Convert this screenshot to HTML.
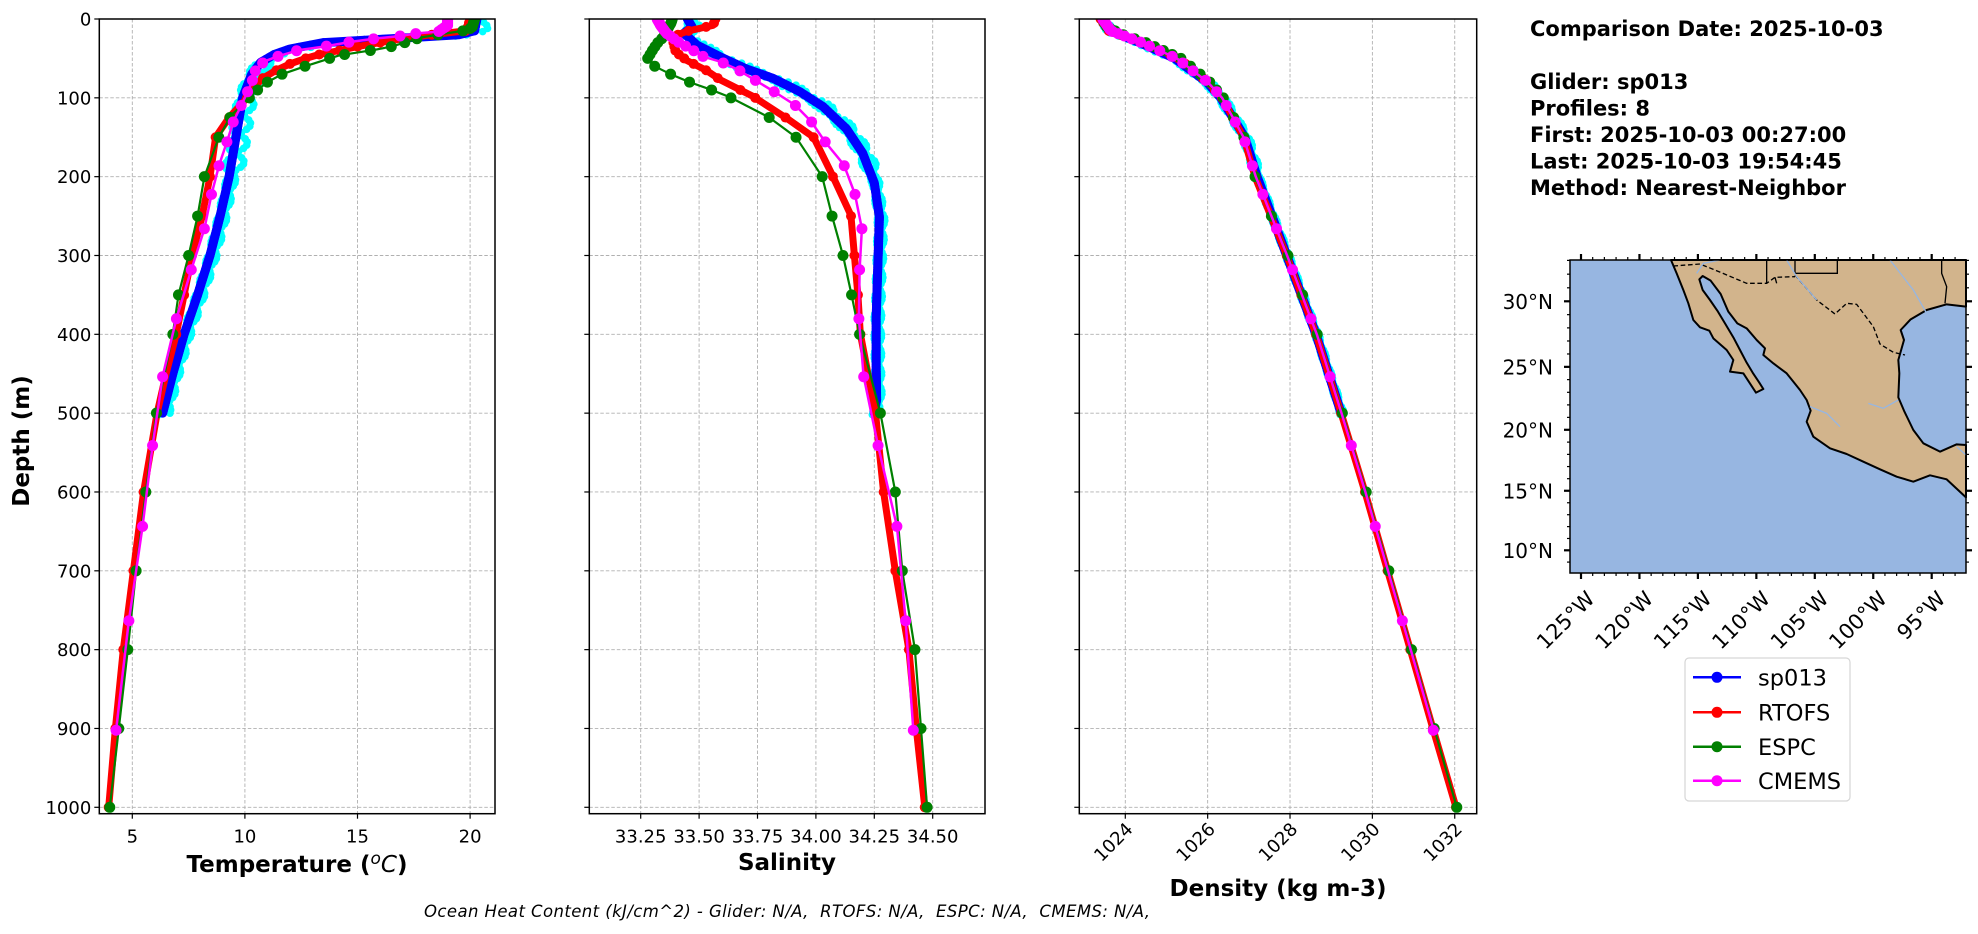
<!DOCTYPE html>
<html><head><meta charset="utf-8"><style>
html,body{margin:0;padding:0;background:#fff;}
svg{display:block;font-family:"DejaVu Sans","Liberation Sans",sans-serif;}
</style></head><body>
<svg id="s" width="1978" height="934" viewBox="0 0 1978 934" xmlns="http://www.w3.org/2000/svg">
<rect width="1978" height="934" fill="#fff"/>
<g id="plots"></g>
<g font-weight="bold" font-size="21" fill="#000">
<text x="1530" y="36">Comparison Date: 2025-10-03</text>
<text x="1530" y="89">Glider: sp013</text>
<text x="1530" y="115.7">Profiles: 8</text>
<text x="1530" y="142">First: 2025-10-03 00:27:00</text>
<text x="1530" y="168.5">Last: 2025-10-03 19:54:45</text>
<text x="1530" y="195">Method: Nearest-Neighbor</text>
</g>
<text x="297" y="872" font-size="23" font-weight="bold" text-anchor="middle">Temperature (<tspan font-style="italic" font-weight="normal" font-size="17" dy="-8">o</tspan><tspan font-style="italic" font-weight="normal" dy="8">C</tspan>)</text>
<text x="787" y="870" font-size="23" font-weight="bold" text-anchor="middle">Salinity</text>
<text x="1278" y="896" font-size="23" font-weight="bold" text-anchor="middle">Density (kg m-3)</text>
<text transform="translate(29,441) rotate(-90)" font-size="23" font-weight="bold" text-anchor="middle">Depth (m)</text>
<text x="424" y="917" font-size="16.5" font-style="italic" textLength="726">Ocean Heat Content (kJ/cm^2) - Glider: N/A,&#160; RTOFS: N/A,&#160; ESPC: N/A,&#160; CMEMS: N/A,</text>
<g id="map">
<rect x="1570" y="260" width="396" height="313" fill="#97b6e1"/>
<g transform="translate(1480,240) scale(0.33333)">
<path fill="#d2b48c" stroke="#000" stroke-width="6" stroke-linejoin="round" d="M573,60 L590,100 L610,150 L625,190 L640,240 L660,262 L688,272 L700,295 L740,330 L760,360 L750,395 L790,400 L828,458 L850,447 L838,428 L818,398 L800,368 L780,330 L760,292 L735,250 L712,212 L690,180 L668,150 L658,118 L668,108 L692,122 L722,162 L745,215 L772,250 L800,265 L830,300 L855,325 L850,345 L880,370 L920,400 L960,450 L980,480 L992,512 L980,545 L1000,590 L1050,625 L1100,642 L1150,665 L1200,688 L1250,710 L1300,725 L1350,706 L1400,718 L1458,772 L1458,615 L1430,613 L1380,635 L1330,610 L1300,570 L1272,512 L1255,472 L1258,400 L1255,360 L1272,300 L1262,270 L1292,238 L1340,210 L1400,193 L1458,200 L1458,60 Z"/>
<g fill="none" stroke="#000" stroke-width="4">
<path stroke-dasharray="14,8" d="M580,78 L660,72 L700,88 L800,130 L860,130 L885,112 L945,110"/>
<path d="M860,60 L860,130 M885,112 L890,130 M945,60 L945,100 L1072,100 L1072,60 M1385,60 L1385,100 L1400,140 L1395,190"/>
<path stroke-dasharray="14,8" d="M945,105 L1010,180 L1065,222 L1100,190 L1130,193 L1180,260 L1200,312 L1240,337 L1275,345"/>
</g>
<g fill="none" stroke="#97b6e1" stroke-width="4">
<path d="M650,100 L670,70 L720,60 M920,60 L950,110 L1010,180 M1230,60 L1300,150 L1340,220 M990,500 L1040,520 L1080,560 M1165,490 L1210,505 L1255,480 M1430,620 L1458,645"/>
</g>
</g>
<rect x="1570" y="260" width="396" height="313" fill="none" stroke="#000" stroke-width="1.5"/>
<g id="mapticks" stroke="#000"></g>
<g fill="#000" text-anchor="end" id="maplabels"></g>
</g>
<rect x="1685" y="658" width="165" height="143" rx="4" fill="#fff" stroke="#d6d6d6" stroke-width="1.2"/>
<g stroke-width="2.5">
<line x1="1693" y1="677.3" x2="1741" y2="677.3" stroke="#0000ff"/><circle cx="1717" cy="677.3" r="5.5" fill="#0000ff"/>
<line x1="1693" y1="712.3" x2="1741" y2="712.3" stroke="#ff0000"/><circle cx="1717" cy="712.3" r="5.5" fill="#ff0000"/>
<line x1="1693" y1="746.7" x2="1741" y2="746.7" stroke="#008000"/><circle cx="1717" cy="746.7" r="5.5" fill="#008000"/>
<line x1="1693" y1="780.7" x2="1741" y2="780.7" stroke="#ff00ff"/><circle cx="1717" cy="780.7" r="5.5" fill="#ff00ff"/>
</g>
<g font-size="22.5" fill="#000">
<text x="1758" y="685.5">sp013</text>
<text x="1758" y="720.5">RTOFS</text>
<text x="1758" y="755">ESPC</text>
<text x="1758" y="789">CMEMS</text>
</g>
</svg>
<script>
(function(){
var NS="http://www.w3.org/2000/svg";
function el(p,n,a,t){var e=document.createElementNS(NS,n);for(var k in a)e.setAttribute(k,a[k]);if(t!==undefined)e.textContent=t;p.appendChild(e);return e;}
var G=document.getElementById('plots');
var top=19,bot=813.7;
function Y(d){return 19+d*0.7883;}
var panels=[
 {l:99.3,r:495,f:function(v){return 132.3+(v-5)*22.52;},ticks:[5,10,15,20],lab:function(v){return ''+v;},rot:false},
 {l:589.3,r:985,f:function(v){return 640.7+(v-33.25)*233.6;},ticks:[33.25,33.5,33.75,34,34.25,34.5],lab:function(v){return v.toFixed(2);},rot:false},
 {l:1079.3,r:1476.7,f:function(v){return 1125.3+(v-1024)*41.18;},ticks:[1024,1026,1028,1030,1032],lab:function(v){return ''+v;},rot:true}
];
var CM=[0.5,1.5,2.6,3.8,5,6.4,7.9,9.6,11.4,13.5,15.8,18.5,21.6,25.2,29.4,34.4,40.3,47.4,55.8,65.8,77.9,92.3,109.7,130.7,155.9,186.1,222.5,266,318.1,380.2,453.9,541.1,643.6,763.3,902.3];
function interp(pts,d){for(var i=0;i<pts.length-1;i++){if(d<=pts[i+1][0]){var a=pts[i],b=pts[i+1];var t=(d-a[0])/(b[0]-a[0]);return a[1]+t*(b[1]-a[1]);}}return pts[pts.length-1][1];}
var data=[
 {glider:[[0,20.3],[15,20.2],[20,19.5],[25,16.5],[30,13.5],[38,12],[45,11.3],[55,10.7],[70,10.3],[100,9.9],[150,9.6],[200,9.3],[250,8.9],[300,8.45],[350,7.9],[400,7.3],[450,6.8],[500,6.35]],
  red:[[0,20.0],[10,19.9],[15,19.8],[20,18.3],[25,17],[30,16],[35,15],[40,14.2],[45,13.3],[50,12.7],[57,12.0],[65,11.4],[75,10.8],[90,10.3],[100,10.1],[125,9.3],[150,8.7],[200,8.45],[250,8.1],[300,7.65],[350,7.3],[400,6.95],[450,6.5],[500,6.1],[600,5.5],[700,5.05],[800,4.6],[900,4.25],[1000,3.95]],
  green:[[0,20.2],[10,20.1],[14,19.9],[23.5,17.8],[30,17.1],[35,16.5],[39,15.8],[46,14.2],[60,12.67],[70,11.65],[80,11.0],[89,10.6],[100,10.2],[122,9.4],[150,8.84],[200,8.2],[250,7.9],[300,7.5],[350,7.05],[400,6.8],[500,6.07],[600,5.6],[700,5.17],[800,4.8],[900,4.4],[1000,4.0]],
  mag:[[0,19.0],[8,19.0],[16,18.6],[18,17.7],[22,16.8],[24.5,15.9],[29,14.7],[35,13.5],[39.4,12.4],[48,11.4],[54,10.85],[65,10.47],[77.5,10.34],[91,10.14],[110,9.83],[130,9.49],[156,9.2],[185,8.86],[222,8.52],[266,8.2],[318,7.62],[380,6.96],[453,6.35],[541,5.9],[645,5.45],[765,4.84],[902,4.28]],cyan:0.35},
 {glider:[[0,33.45],[10,33.47],[18,33.435],[33,33.49],[48,33.59],[63,33.70],[75.5,33.818],[92,33.93],[111,34.03],[139,34.13],[170,34.20],[208,34.25],[251,34.272],[314,34.265],[378,34.258],[441,34.258],[483,34.26],[500,34.25]],
  red:[[0,33.57],[8,33.56],[12,33.50],[15,33.455],[19.7,33.41],[30,33.39],[42,33.40],[53,33.45],[65,33.53],[77,33.59],[98,33.73],[126,33.875],[150,33.99],[198,34.07],[249,34.15],[300,34.165],[350,34.18],[399,34.19],[500,34.255],[600,34.29],[700,34.34],[800,34.398],[900,34.43],[1000,34.466]],
  green:[[0,33.385],[5,33.38],[10,33.37],[18,33.357],[25,33.34],[31,33.32],[40,33.30],[50,33.28],[60,33.31],[70,33.378],[80,33.459],[89,33.545],[99,33.63],[125,33.80],[150,33.915],[200,34.027],[251,34.07],[300,34.116],[349,34.152],[400,34.187],[500,34.276],[600,34.34],[700,34.37],[800,34.424],[900,34.45],[1000,34.476]],
  mag:[[0,33.32],[5,33.33],[8,33.335],[18,33.36],[29,33.41],[39,33.47],[48,33.52],[54,33.59],[64,33.665],[77,33.736],[92,33.82],[109,33.91],[130,33.98],[156,34.04],[185,34.12],[222,34.167],[266,34.197],[318,34.187],[380,34.184],[453,34.204],[541,34.266],[644,34.347],[763,34.384],[902,34.417]],cyan:0.025},
 {glider:[[0,1023.4],[15,1023.63],[30,1024.35],[50,1025.2],[80,1025.98],[100,1026.32],[150,1026.9],[200,1027.2],[300,1027.92],[400,1028.63],[500,1029.24]],
  red:[[0,1023.4],[15,1023.6],[30,1024.45],[50,1025.3],[80,1026.0],[100,1026.35],[150,1026.87],[200,1027.15],[300,1027.92],[400,1028.63],[500,1029.24],[600,1029.82],[700,1030.37],[800,1030.92],[900,1031.47],[1000,1032.03]],
  green:[[0,1023.45],[10,1023.55],[20,1023.95],[30,1024.5],[50,1025.35],[80,1026.05],[100,1026.38],[150,1026.88],[200,1027.15],[300,1027.95],[400,1028.66],[500,1029.27],[600,1029.85],[700,1030.4],[800,1030.95],[900,1031.5],[1000,1032.05]],
  mag:[[0,1023.45],[15,1023.65],[30,1024.4],[50,1025.25],[80,1026.0],[100,1026.35],[150,1026.87],[200,1027.17],[300,1027.93],[400,1028.65],[500,1029.25],[600,1029.83],[700,1030.38],[800,1030.93],[900,1031.48]],cyan:0.08}
];
var depthsR=[0,5,10,15,20,25,30,35,40,45,50,57,65,75,90,100,125,150,200,250,300,350,400,500,600,700,800,900,1000];
var depthsG=[0,2,4,6,8,10,12,15,20,25,30,35,40,45,50,60,70,80,90,100,125,150,200,250,300,350,400,500,600,700,800,900,1000];
panels.forEach(function(p,i){
  var g=el(G,'g',{});
  el(g,'clipPath',{id:'c'+i}).appendChild((function(){var r=document.createElementNS(NS,'rect');r.setAttribute('x',p.l);r.setAttribute('y',top);r.setAttribute('width',p.r-p.l);r.setAttribute('height',bot-top);return r;})());
  for(var d=0;d<=1000;d+=100){el(g,'line',{x1:p.l,x2:p.r,y1:Y(d),y2:Y(d),stroke:'#b0b0b0','stroke-width':0.9,'stroke-dasharray':'3.5,2'});}
  p.ticks.forEach(function(v){var x=p.f(v);el(g,'line',{x1:x,x2:x,y1:top,y2:bot,stroke:'#b0b0b0','stroke-width':0.9,'stroke-dasharray':'3.5,2'});});
  var dg=el(g,'g',{'clip-path':'url(#c'+i+')'});
  var D=data[i];
  function pl(pts,dx,col,w){var s='';pts.forEach(function(q,k){s+=(k?'L':'M')+(p.f(q[1])+dx).toFixed(1)+','+Y(q[0]).toFixed(1);});el(dg,'path',{d:s,fill:'none',stroke:col,'stroke-width':w,'stroke-linejoin':'round','stroke-linecap':'round'});}
  var gl=D.glider;var cs=D.cyan;
  for(var dd=0;dd<=500;dd+=4){var v=interp(gl,dd);var off=cs*Math.sin(dd*1.7)*(dd<200?1.6:0.8);var x=p.f(v+Math.abs(off)*0.8+cs*0.3);el(dg,'circle',{cx:x,cy:Y(dd),r:3.8,fill:'#00ffff'});
    var x2=p.f(v-Math.abs(off)*0.5);el(dg,'circle',{cx:x2,cy:Y(dd+2),r:3.5,fill:'#00ffff'});}
  pl(gl,0,'#0000ff',9);
  var pts=[];for(var dd=0;dd<=500;dd+=3){pts.push([dd,interp(gl,dd)]);}
  pts.forEach(function(q){el(dg,'circle',{cx:p.f(q[1]),cy:Y(q[0]),r:4.5,fill:'#0000ff'});});
  pl(D.red,0,'#ff0000',7);
  depthsR.forEach(function(d){if(d<=D.red[D.red.length-1][0])el(dg,'circle',{cx:p.f(interp(D.red,d)),cy:Y(d),r:5,fill:'#ff0000'});});
  pl(D.green,0,'#008000',2.2);
  depthsG.forEach(function(d){el(dg,'circle',{cx:p.f(interp(D.green,d)),cy:Y(d),r:5.5,fill:'#008000'});});
  pl(D.mag,0,'#ff00ff',2.5);
  CM.forEach(function(d){el(dg,'circle',{cx:p.f(interp(D.mag,d)),cy:Y(d),r:5.5,fill:'#ff00ff'});});
  el(g,'rect',{x:p.l,y:top,width:p.r-p.l,height:bot-top,fill:'none',stroke:'#000','stroke-width':1.5});
  for(var d=0;d<=1000;d+=100){el(g,'line',{x1:p.l-5,x2:p.l,y1:Y(d),y2:Y(d),stroke:'#000','stroke-width':1.2});
    if(i==0)el(g,'text',{x:p.l-8,y:Y(d)+6.5,'font-size':18,'text-anchor':'end'},''+d);}
  p.ticks.forEach(function(v){var x=p.f(v);el(g,'line',{x1:x,x2:x,y1:bot,y2:bot+5,stroke:'#000','stroke-width':1.2});
    if(p.rot){el(g,'text',{transform:'translate('+(x+5)+','+(bot+13)+') rotate(-45)','font-size':18,'text-anchor':'end','dominant-baseline':'middle'},p.lab(v));}
    else el(g,'text',{x:x,y:bot+29,'font-size':18,'text-anchor':'middle'},p.lab(v));});
});
var MT=document.getElementById('mapticks'),ML=document.getElementById('maplabels');
function LX(lon){return 1581+(lon+125)*11.69;}
function merc(p){return Math.log(Math.tan(Math.PI/4+p*Math.PI/360));}
function LY(lat){return 301.3-666*(merc(lat)-merc(30));}
for(var lon=-126;lon<=-92;lon++){var x=LX(lon);if(x<1570||x>1966)continue;var maj=(lon%5==0);var L=maj?6:3;var w=maj?2.2:1.2;
  el(MT,'line',{x1:x,x2:x,y1:573,y2:573+L,'stroke-width':w});el(MT,'line',{x1:x,x2:x,y1:260,y2:260-L,'stroke-width':w});
  if(maj)el(ML,'text',{transform:'translate('+(x+15)+',600) rotate(-45)','font-size':21},(-lon)+'°W');}
for(var lat=8;lat<=33;lat++){var y=LY(lat);if(y<260||y>573)continue;var maj=(lat%5==0);var L=maj?6:3;var w=maj?2.2:1.2;
  el(MT,'line',{x1:1570-L,x2:1570,y1:y,y2:y,'stroke-width':w});el(MT,'line',{x1:1966,x2:1966+L,y1:y,y2:y,'stroke-width':w});
  if(maj)el(ML,'text',{x:1553,y:y+7.5,'font-size':20},lat+'°N');}
})();
</script>
</body></html>
